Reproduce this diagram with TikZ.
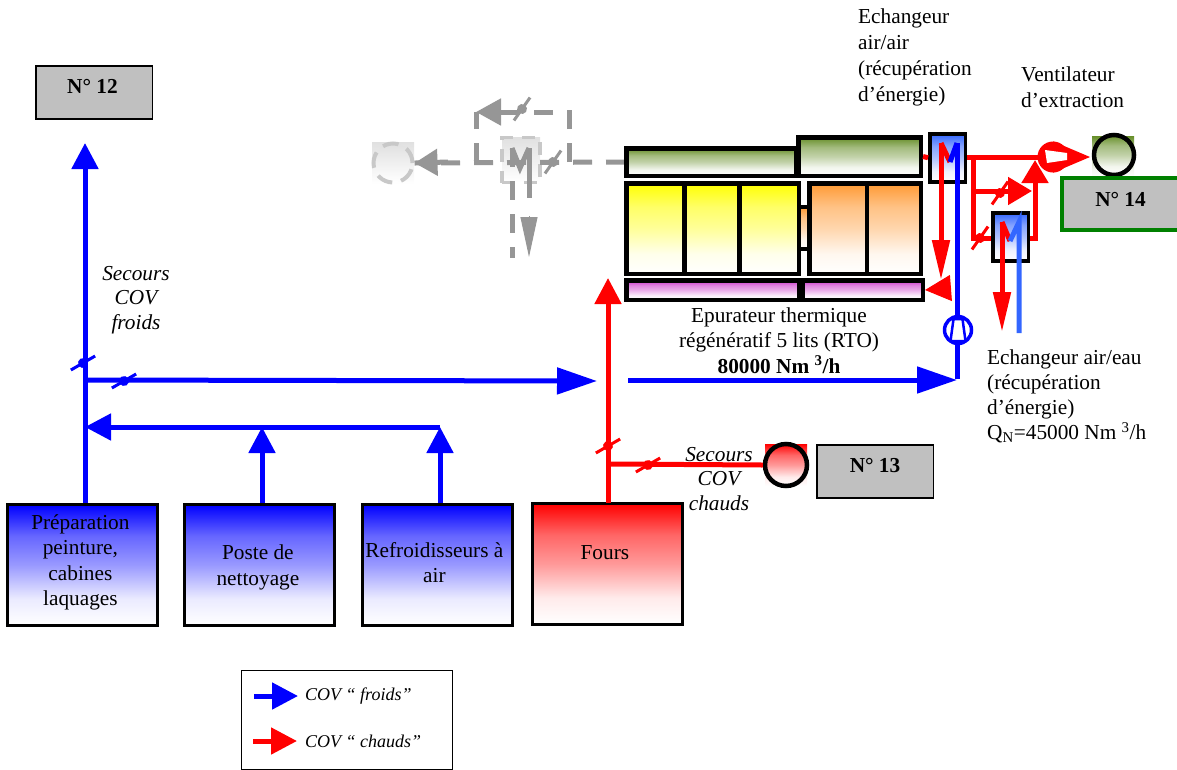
\documentclass[tikz,border=0pt]{standalone}
\usepackage{fontspec}
\setmainfont{Liberation Serif}
\usepackage{xcolor}
\usetikzlibrary{arrows.meta}
\definecolor{ghostgray}{RGB}{150,150,150}
\definecolor{ghostline}{RGB}{200,200,200}
\definecolor{panelgray}{RGB}{192,192,192}
\definecolor{exblue}{RGB}{51,102,255}
\definecolor{oliveg}{RGB}{102,142,40}
\definecolor{orangeg}{RGB}{255,153,51}
\definecolor{purpleg}{RGB}{204,51,204}
\definecolor{panelgreen}{RGB}{0,128,0}
\newcommand{\deffade}[2]{\pgfdeclareverticalshading{#1}{100bp}{color(0bp)=(white); color(25bp)=(white); color(36bp)=(#2!8!white); color(50bp)=(#2!40!white); color(62bp)=(#2!60!white); color(75bp)=(#2); color(100bp)=(#2)}}
\deffade{fadeblue}{blue}
\deffade{fadered}{red}
\deffade{fadeyellow}{yellow}
\deffade{fadeorange}{orangeg}
\deffade{fadeolive}{oliveg}
\deffade{fadepurple}{purpleg}
\deffade{fadeex}{exblue}
\tikzset{
  valve/.pic={\fill (0,0) circle (5); \draw[line width=3] (-14,0) -- (14,0);},
  fanbody/.pic={\draw[fill=white] (-7.5,-11) -- (-4.5,11) -- (4.5,11) -- (7.5,-11) -- cycle;}
}
\begin{document}
\begin{tikzpicture}[x=1pt,y=1pt,every node/.style={font=\fontsize{21.3}{25.5}\selectfont,inner sep=0pt},
  pipe/.style={line width=5},
  bigtip/.style={-{Triangle[length=26pt,width=26pt]}},
  slimtip/.style={-{Triangle[length=40pt,width=17pt]}},
  widetip/.style={-{Triangle[length=40pt,width=26pt]}},
  procbox/.style={draw,line width=3.3,minimum width=149.5,minimum height=120.5,align=center,anchor=north west},
  panel/.style={draw,line width=1.5,fill=panelgray,minimum width=116.5,minimum height=53,anchor=north west,font=\fontsize{21.3}{25.5}\selectfont\bfseries},
  exch/.style={draw,line width=3.5,minimum width=35.5,minimum height=48,anchor=north west,fade=fadeex},
  rto/.style={draw,line width=4.5,anchor=north west},
  ghostpipe/.style={ghostgray,line width=5,dash pattern=on 19pt off 14pt},
  flowtext/.style={align=center,font=\fontsize{21.3}{24.5}\selectfont\itshape},
  note/.style={align=left,anchor=west,font=\fontsize{21.3}{26}\selectfont},
  fade/.style={shade,shading=#1}]
\useasboundingbox (0,0) rectangle (1177,-769);
% greyed out branch
\node[minimum size=42,top color=black!12,bottom color=white] (ghostsq) at (393,-163) {};
\node[circle,draw=ghostline,line width=4,dash pattern=on 16pt off 9pt,minimum size=39,top color=black!12,bottom color=white] (ghostfan) at (393,-163) {};
\node[draw=ghostline,line width=3.5,dash pattern=on 13pt off 9pt,minimum width=38,minimum height=45,top color=black!12,bottom color=white] (ghostex) at (521,-160) {};
\coordinate (ghoststart) at (625,-162);
\coordinate (ghostR) at (569,-162);
\coordinate (ghostRu) at (569,-112);
\coordinate (ghostL) at (476,-162);
\coordinate (ghostLu) at (476,-112);
\coordinate (ghostmid) at (500,-112);
\coordinate (ghostdownA) at (512,-258);
\coordinate (ghostdownB) at (529,-257);
\coordinate (ghostmA) at (512,-148);
\coordinate (ghostmB) at (529,-148);
\coordinate (ghostmC) at (520,-168);
\draw[ghostpipe] (ghoststart) -- (ghostfan.east);
\draw[ghostgray,-{Triangle[length=23pt,width=26pt]},line width=5] (448,-162) -- (ghostfan.east);
\draw[ghostpipe] (ghostL) -- (ghostLu);
\draw[ghostpipe] (ghostR) -- (ghostRu) -- (ghostmid);
\draw[ghostgray,-{Triangle[length=25pt,width=26pt]},line width=5] (505,-112) -- (ghostLu);
\draw[ghostpipe] (ghostmA) -- (ghostdownA);
\draw[ghostgray,line width=5] (ghostmB) -- (529,-198);
\draw[ghostgray,-{Triangle[length=40pt,width=17pt]},line width=1] (529,-216) -- (ghostdownB);
\draw[ghostgray,line width=5] (ghostmA) -- (ghostmC) -- (ghostmB);
\pic[ghostgray,rotate=55] at (522,-109) {valve};
\pic[ghostgray,rotate=55] at (553,-162) {valve};
% cold lines
\node[panel] (n12) at (35,-65) {\raisebox{11pt}{\hspace*{-3pt}N° 12}};
\node[procbox,fade=fadeblue] (prep) at (6,-503) {\hspace*{-4pt}\raisebox{2.5pt}[\height][\depth]{\begin{tabular}{@{}c@{}}Préparation\\peinture,\\cabines\\laquages\end{tabular}}};
\node[procbox,fade=fadeblue] (poste) at (183,-503) {\raisebox{-2.5pt}[\height][\depth]{\hspace*{-3pt}\begin{tabular}{@{}c@{}}Poste de\\nettoyage\end{tabular}}};
\node[procbox,fade=fadeblue] (refr) at (361,-503) {\hspace*{-6pt}\begin{tabular}{@{}c@{}}Refroidisseurs à\\air\end{tabular}};
\coordinate (coldA) at (85,-503);
\coordinate (coldB) at (85,-143);
\coordinate (coldC) at (85,-380);
\coordinate (coldD) at (597,-381);
\coordinate (coldE) at (85,-427);
\coordinate (coldF) at (262,-427);
\coordinate (coldG) at (440,-427);
\coordinate (coldH) at (262,-503);
\coordinate (coldI) at (440,-503);
\draw[pipe,blue,bigtip] (coldA) -- (coldB);
\draw[pipe,blue,-{Triangle[length=40pt,width=26pt]}] (coldC) -- (coldD);
\draw[pipe,blue,bigtip] (coldG) -- (coldE);
\draw[pipe,blue,bigtip] (coldH) -- (coldF);
\draw[pipe,blue,bigtip] (coldI) -- (coldG);
\pic[blue,rotate=30] at (83,-363) {valve};
\pic[blue,rotate=30] at (124,-381) {valve};
\node[flowtext] (coldnote) at (136,-300) {Secours\\COV\\froids};
% hot lines
\node[procbox,fade=fadered] (fours) at (531,-502) {\raisebox{22pt}{\hspace*{-5pt}Fours}};
\node[minimum size=42,fade=fadered] (firesq) at (786,-465) {};
\node[circle,draw,line width=4.5,minimum size=42,fade=fadered] (fire) at (786,-465) {};
\node[panel] (n13) at (816,-444) {\raisebox{11pt}{N° 13}};
\coordinate (hotA) at (608,-503);
\coordinate (hotB) at (608,-278);
\coordinate (hotC) at (608,-464);
\draw[pipe,red,bigtip] (hotA) -- (hotB);
\draw[pipe,red] (hotC) -- (fire.west);
\pic[red,rotate=30] at (608,-446) {valve};
\pic[red,rotate=30] at (648,-465) {valve};
\node[flowtext] (hotnote) at (719,-479) {Secours\\COV\\chauds};
% RTO
\node[rto,fade=fadeolive,minimum width=170,minimum height=27.5] (greenA) at (624,-146) {};
\node[rto,fade=fadeolive,minimum width=122.5,minimum height=38.5] (greenB) at (796,-135) {};
\node[draw,line width=4.5,fade=fadeorange,minimum width=10,minimum height=42] (orangeC) at (804,-228) {};
\node[rto,fade=fadeyellow,minimum width=172.5,minimum height=90.5] (yellowA) at (624,-181) {};
\node[rto,fade=fadeorange,minimum width=111.5,minimum height=90.5] (orangeA) at (807,-181) {};
\draw[line width=4.5] (684.5,-183) -- (684.5,-274);
\draw[line width=4.5] (739.5,-183) -- (739.5,-274);
\draw[line width=4.5] (867,-183) -- (867,-274);
\node[rto,fade=fadepurple,minimum width=172.5,minimum height=19.5] (purpleA) at (624,-278) {};
\node[rto,fade=fadepurple,minimum width=120.5,minimum height=19.5] (purpleB) at (800,-278) {};
\node[align=center] (rtotext) at (779,-340.5) {Epurateur thermique\\régénératif 5 lits (RTO)\\\textbf{80000 Nm \textsuperscript{3}/h}};
% exchangers and return lines
\node[exch] (exchA) at (928,-132) {};
\node[exch] (exchB) at (991,-211) {};
\coordinate (redA) at (941,-143);
\coordinate (redB) at (941,-280);
\coordinate (redC) at (950,-162);
\coordinate (blueA) at (957,-143);
\coordinate (blueB) at (957,-379);
\coordinate (blueC) at (628,-380);
\coordinate (blueD) at (957,-380);
\coordinate (purpleIn) at (951,-288);
\coordinate (lineA) at (973,-157);
\coordinate (lineB) at (973,-238);
\coordinate (lineC) at (973,-191);
\coordinate (lineD) at (1032,-191);
\coordinate (lineE) at (1035,-238);
\coordinate (lineF) at (1035,-160);
\coordinate (lineG) at (1040,-157);
\coordinate (redD) at (1002,-222);
\coordinate (redE) at (1002,-332);
\coordinate (redF) at (1010,-241);
\coordinate (blueE) at (1019,-222);
\coordinate (blueF) at (1019,-333);
\draw[pipe,red] (greenB.east) -- (exchA.west);
\draw[pipe,red,line join=bevel] (exchA.east |- lineA) -- (lineG);
\draw[pipe,red] (lineA) -- (lineB) -- (exchB.west |- lineB);
\draw[pipe,red,-{Triangle[length=24pt,width=27pt]}] (lineC) -- (lineD);
\draw[pipe,red,-{Triangle[length=23pt,width=26pt]}] (exchB.east |- lineE) -- (lineE) -- (lineF);
\draw[pipe,red,slimtip] (redA) -- (redB);
\draw[red,bigtip,line width=1] (purpleIn) -- (purpleB.east);
\draw[pipe,red] (redA) -- (redC);
\draw[pipe,blue] (redC) -- (blueA);
\draw[pipe,blue] (blueA) -- (blueB);
\draw[pipe,blue,widetip] (blueC) -- (blueD);
\draw[pipe,red,slimtip] (redD) -- (redE);
\draw[pipe,red] (redD) -- (redF);
\draw[pipe,exblue] (redF) -- (blueE) -- (blueF);
\pic[red,rotate=55] at (980,-238) {valve};
\pic[red,rotate=55] at (1000,-193) {valve};
% pump and fan
\node[circle,draw=blue,fill=white,line width=3.5,minimum size=27] (pump) at (958,-330) {};
\pic[blue,line width=2.5] at (958,-330) {fanbody};
\node[minimum size=42,fade=fadeolive] (stacksq) at (1113,-157) {};
\node[circle,draw,line width=4.5,minimum size=40,fade=fadeolive] (stack) at (1114,-155) {};
\node[panel,draw=panelgreen,line width=4,minimum width=120,minimum height=52] (n14) at (1060,-176) {\raisebox{10pt}{\hspace*{-3pt}N° 14}};
\node[circle,fill=red,minimum size=31] (vent) at (1053,-157) {};
\fill[red] (vent.north) -- (1090,-157) -- (vent.south) -- cycle;
\fill[white] (1045,-150) -- (1067,-153) -- (1067,-160) -- (1047,-163) -- cycle;
\node[note] (exchAtext) at (858,-57) {Echangeur\\air/air\\(récupération\\d’énergie)};
\node[note] (venttext) at (1021,-87) {Ventilateur\\d’extraction};
\node[note,font=\fontsize{21.3}{25}\selectfont] (exchBtext) at (987,-396.5) {Echangeur air/eau\\(récupération\\d’énergie)\\Q\textsubscript{N}=45000 Nm \textsuperscript{3}/h};
% legend
\node[draw,line width=1.2,minimum width=211,minimum height=99,anchor=north west] (legend) at (241,-670) {};
\coordinate (coldkeyA) at (254,-696);
\coordinate (coldkeyB) at (298,-696);
\coordinate (hotkeyA) at (253,-741);
\coordinate (hotkeyB) at (297,-741);
\draw[pipe,blue,bigtip] (coldkeyA) -- (coldkeyB);
\draw[pipe,red,bigtip] (hotkeyA) -- (hotkeyB);
\node[anchor=west,font=\fontsize{18}{20}\selectfont\itshape] (coldkey) at (305,-696) {COV “ froids”};
\node[anchor=west,font=\fontsize{18}{20}\selectfont\itshape] (hotkey) at (305,-741) {COV “ chauds”};
\end{tikzpicture}
\end{document}
